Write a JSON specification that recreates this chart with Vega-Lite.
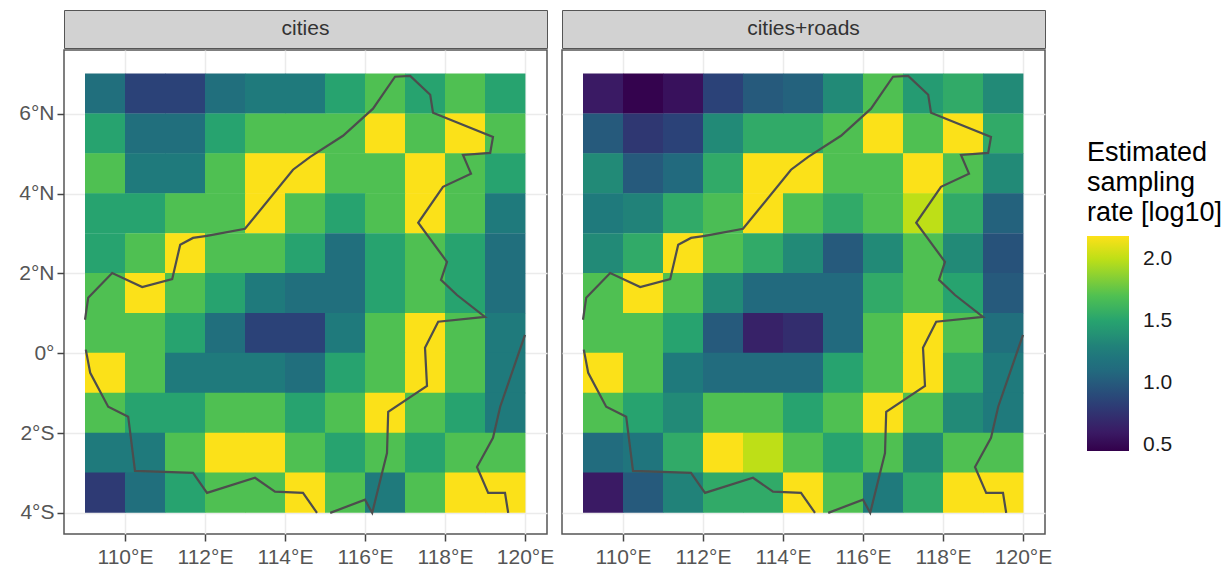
{"$schema":"https://vega.github.io/schema/vega-lite/v6.json",
"padding":{"left":18,"top":9,"right":0,"bottom":0},
"background":"white",
"config":{"font":"Liberation Sans","concat":{"spacing":6},"view":{"stroke":"#555555","strokeWidth":1.5}},
"datasets":{
"strip1":[{"label":"cities"}],
"strip2":[{"label":"cities+roads"}],
"boundary":[
{"part":"A","seq":1,"lon":109.02,"lat":0.09},{"part":"A","seq":2,"lon":109.13,"lat":-0.49},{"part":"A","seq":3,"lon":109.58,"lat":-1.34},{"part":"A","seq":4,"lon":110.08,"lat":-1.59},{"part":"A","seq":5,"lon":110.25,"lat":-2.95},{"part":"A","seq":6,"lon":111.7,"lat":-3.0},{"part":"A","seq":7,"lon":112.05,"lat":-3.5},{"part":"A","seq":8,"lon":113.25,"lat":-3.12},{"part":"A","seq":9,"lon":113.75,"lat":-3.47},{"part":"A","seq":10,"lon":114.45,"lat":-3.5},{"part":"A","seq":11,"lon":114.8,"lat":-4.0},
{"part":"B","seq":1,"lon":115.13,"lat":-4.0},{"part":"B","seq":2,"lon":116.0,"lat":-3.67},{"part":"B","seq":3,"lon":116.18,"lat":-4.0},{"part":"B","seq":4,"lon":116.55,"lat":-2.5},{"part":"B","seq":5,"lon":116.58,"lat":-1.47},{"part":"B","seq":6,"lon":117.55,"lat":-0.82},{"part":"B","seq":7,"lon":117.5,"lat":0.14},{"part":"B","seq":8,"lon":117.83,"lat":0.79},{"part":"B","seq":9,"lon":119.0,"lat":0.91},{"part":"B","seq":10,"lon":118.3,"lat":1.46},{"part":"B","seq":11,"lon":117.9,"lat":1.84},{"part":"B","seq":12,"lon":118.05,"lat":2.29},{"part":"B","seq":13,"lon":117.33,"lat":3.27},{"part":"B","seq":14,"lon":117.95,"lat":4.17},{"part":"B","seq":15,"lon":118.65,"lat":4.5},{"part":"B","seq":16,"lon":118.45,"lat":4.97},{"part":"B","seq":17,"lon":119.13,"lat":5.02},{"part":"B","seq":18,"lon":119.2,"lat":5.42},{"part":"B","seq":19,"lon":117.7,"lat":6.03},{"part":"B","seq":20,"lon":117.63,"lat":6.48},{"part":"B","seq":21,"lon":117.13,"lat":6.95},{"part":"B","seq":22,"lon":116.75,"lat":6.93},{"part":"B","seq":23,"lon":116.2,"lat":6.13},{"part":"B","seq":24,"lon":115.45,"lat":5.45},{"part":"B","seq":25,"lon":114.63,"lat":4.92},{"part":"B","seq":26,"lon":114.2,"lat":4.6},{"part":"B","seq":27,"lon":113.0,"lat":3.12},{"part":"B","seq":28,"lon":112.05,"lat":2.94},{"part":"B","seq":29,"lon":111.7,"lat":2.89},{"part":"B","seq":30,"lon":111.38,"lat":2.72},{"part":"B","seq":31,"lon":111.18,"lat":1.86},{"part":"B","seq":32,"lon":110.43,"lat":1.66},{"part":"B","seq":33,"lon":109.68,"lat":2.01},{"part":"B","seq":34,"lon":109.08,"lat":1.39},{"part":"B","seq":35,"lon":109.0,"lat":0.84},
{"part":"C","seq":1,"lon":119.58,"lat":-4.0},{"part":"C","seq":2,"lon":119.5,"lat":-3.5},{"part":"C","seq":3,"lon":119.08,"lat":-3.5},{"part":"C","seq":4,"lon":118.8,"lat":-2.85},{"part":"C","seq":5,"lon":119.2,"lat":-2.12},{"part":"C","seq":6,"lon":119.38,"lat":-1.34},{"part":"C","seq":7,"lon":120.0,"lat":0.46}
],
"cities":[
{"lon":109,"lon2":110,"lat":6,"lat2":7,"value":1.15},{"lon":110,"lon2":111,"lat":6,"lat2":7,"value":0.85},{"lon":111,"lon2":112,"lat":6,"lat2":7,"value":0.85},{"lon":112,"lon2":113,"lat":6,"lat2":7,"value":1.15},{"lon":113,"lon2":114,"lat":6,"lat2":7,"value":1.25},{"lon":114,"lon2":115,"lat":6,"lat2":7,"value":1.25},{"lon":115,"lon2":116,"lat":6,"lat2":7,"value":1.5},{"lon":116,"lon2":117,"lat":6,"lat2":7,"value":1.7},{"lon":117,"lon2":118,"lat":6,"lat2":7,"value":1.5},{"lon":118,"lon2":119,"lat":6,"lat2":7,"value":1.7},{"lon":119,"lon2":120,"lat":6,"lat2":7,"value":1.5},
{"lon":109,"lon2":110,"lat":5,"lat2":6,"value":1.5},{"lon":110,"lon2":111,"lat":5,"lat2":6,"value":1.15},{"lon":111,"lon2":112,"lat":5,"lat2":6,"value":1.15},{"lon":112,"lon2":113,"lat":5,"lat2":6,"value":1.5},{"lon":113,"lon2":114,"lat":5,"lat2":6,"value":1.7},{"lon":114,"lon2":115,"lat":5,"lat2":6,"value":1.7},{"lon":115,"lon2":116,"lat":5,"lat2":6,"value":1.7},{"lon":116,"lon2":117,"lat":5,"lat2":6,"value":2.18},{"lon":117,"lon2":118,"lat":5,"lat2":6,"value":1.7},{"lon":118,"lon2":119,"lat":5,"lat2":6,"value":2.18},{"lon":119,"lon2":120,"lat":5,"lat2":6,"value":1.7},
{"lon":109,"lon2":110,"lat":4,"lat2":5,"value":1.7},{"lon":110,"lon2":111,"lat":4,"lat2":5,"value":1.25},{"lon":111,"lon2":112,"lat":4,"lat2":5,"value":1.25},{"lon":112,"lon2":113,"lat":4,"lat2":5,"value":1.7},{"lon":113,"lon2":114,"lat":4,"lat2":5,"value":2.18},{"lon":114,"lon2":115,"lat":4,"lat2":5,"value":2.18},{"lon":115,"lon2":116,"lat":4,"lat2":5,"value":1.7},{"lon":116,"lon2":117,"lat":4,"lat2":5,"value":1.7},{"lon":117,"lon2":118,"lat":4,"lat2":5,"value":2.18},{"lon":118,"lon2":119,"lat":4,"lat2":5,"value":1.7},{"lon":119,"lon2":120,"lat":4,"lat2":5,"value":1.5},
{"lon":109,"lon2":110,"lat":3,"lat2":4,"value":1.5},{"lon":110,"lon2":111,"lat":3,"lat2":4,"value":1.5},{"lon":111,"lon2":112,"lat":3,"lat2":4,"value":1.7},{"lon":112,"lon2":113,"lat":3,"lat2":4,"value":1.7},{"lon":113,"lon2":114,"lat":3,"lat2":4,"value":2.18},{"lon":114,"lon2":115,"lat":3,"lat2":4,"value":1.7},{"lon":115,"lon2":116,"lat":3,"lat2":4,"value":1.5},{"lon":116,"lon2":117,"lat":3,"lat2":4,"value":1.7},{"lon":117,"lon2":118,"lat":3,"lat2":4,"value":2.18},{"lon":118,"lon2":119,"lat":3,"lat2":4,"value":1.7},{"lon":119,"lon2":120,"lat":3,"lat2":4,"value":1.25},
{"lon":109,"lon2":110,"lat":2,"lat2":3,"value":1.5},{"lon":110,"lon2":111,"lat":2,"lat2":3,"value":1.7},{"lon":111,"lon2":112,"lat":2,"lat2":3,"value":2.18},{"lon":112,"lon2":113,"lat":2,"lat2":3,"value":1.7},{"lon":113,"lon2":114,"lat":2,"lat2":3,"value":1.7},{"lon":114,"lon2":115,"lat":2,"lat2":3,"value":1.5},{"lon":115,"lon2":116,"lat":2,"lat2":3,"value":1.15},{"lon":116,"lon2":117,"lat":2,"lat2":3,"value":1.5},{"lon":117,"lon2":118,"lat":2,"lat2":3,"value":1.7},{"lon":118,"lon2":119,"lat":2,"lat2":3,"value":1.5},{"lon":119,"lon2":120,"lat":2,"lat2":3,"value":1.15},
{"lon":109,"lon2":110,"lat":1,"lat2":2,"value":1.7},{"lon":110,"lon2":111,"lat":1,"lat2":2,"value":2.18},{"lon":111,"lon2":112,"lat":1,"lat2":2,"value":1.7},{"lon":112,"lon2":113,"lat":1,"lat2":2,"value":1.5},{"lon":113,"lon2":114,"lat":1,"lat2":2,"value":1.25},{"lon":114,"lon2":115,"lat":1,"lat2":2,"value":1.15},{"lon":115,"lon2":116,"lat":1,"lat2":2,"value":1.15},{"lon":116,"lon2":117,"lat":1,"lat2":2,"value":1.5},{"lon":117,"lon2":118,"lat":1,"lat2":2,"value":1.7},{"lon":118,"lon2":119,"lat":1,"lat2":2,"value":1.5},{"lon":119,"lon2":120,"lat":1,"lat2":2,"value":1.15},
{"lon":109,"lon2":110,"lat":0,"lat2":1,"value":1.7},{"lon":110,"lon2":111,"lat":0,"lat2":1,"value":1.7},{"lon":111,"lon2":112,"lat":0,"lat2":1,"value":1.5},{"lon":112,"lon2":113,"lat":0,"lat2":1,"value":1.15},{"lon":113,"lon2":114,"lat":0,"lat2":1,"value":0.85},{"lon":114,"lon2":115,"lat":0,"lat2":1,"value":0.85},{"lon":115,"lon2":116,"lat":0,"lat2":1,"value":1.25},{"lon":116,"lon2":117,"lat":0,"lat2":1,"value":1.7},{"lon":117,"lon2":118,"lat":0,"lat2":1,"value":2.18},{"lon":118,"lon2":119,"lat":0,"lat2":1,"value":1.7},{"lon":119,"lon2":120,"lat":0,"lat2":1,"value":1.25},
{"lon":109,"lon2":110,"lat":-1,"lat2":0,"value":2.18},{"lon":110,"lon2":111,"lat":-1,"lat2":0,"value":1.7},{"lon":111,"lon2":112,"lat":-1,"lat2":0,"value":1.25},{"lon":112,"lon2":113,"lat":-1,"lat2":0,"value":1.25},{"lon":113,"lon2":114,"lat":-1,"lat2":0,"value":1.25},{"lon":114,"lon2":115,"lat":-1,"lat2":0,"value":1.15},{"lon":115,"lon2":116,"lat":-1,"lat2":0,"value":1.5},{"lon":116,"lon2":117,"lat":-1,"lat2":0,"value":1.7},{"lon":117,"lon2":118,"lat":-1,"lat2":0,"value":2.18},{"lon":118,"lon2":119,"lat":-1,"lat2":0,"value":1.7},{"lon":119,"lon2":120,"lat":-1,"lat2":0,"value":1.25},
{"lon":109,"lon2":110,"lat":-2,"lat2":-1,"value":1.7},{"lon":110,"lon2":111,"lat":-2,"lat2":-1,"value":1.5},{"lon":111,"lon2":112,"lat":-2,"lat2":-1,"value":1.5},{"lon":112,"lon2":113,"lat":-2,"lat2":-1,"value":1.7},{"lon":113,"lon2":114,"lat":-2,"lat2":-1,"value":1.7},{"lon":114,"lon2":115,"lat":-2,"lat2":-1,"value":1.5},{"lon":115,"lon2":116,"lat":-2,"lat2":-1,"value":1.7},{"lon":116,"lon2":117,"lat":-2,"lat2":-1,"value":2.18},{"lon":117,"lon2":118,"lat":-2,"lat2":-1,"value":1.7},{"lon":118,"lon2":119,"lat":-2,"lat2":-1,"value":1.5},{"lon":119,"lon2":120,"lat":-2,"lat2":-1,"value":1.25},
{"lon":109,"lon2":110,"lat":-3,"lat2":-2,"value":1.25},{"lon":110,"lon2":111,"lat":-3,"lat2":-2,"value":1.25},{"lon":111,"lon2":112,"lat":-3,"lat2":-2,"value":1.7},{"lon":112,"lon2":113,"lat":-3,"lat2":-2,"value":2.18},{"lon":113,"lon2":114,"lat":-3,"lat2":-2,"value":2.18},{"lon":114,"lon2":115,"lat":-3,"lat2":-2,"value":1.7},{"lon":115,"lon2":116,"lat":-3,"lat2":-2,"value":1.5},{"lon":116,"lon2":117,"lat":-3,"lat2":-2,"value":1.7},{"lon":117,"lon2":118,"lat":-3,"lat2":-2,"value":1.5},{"lon":118,"lon2":119,"lat":-3,"lat2":-2,"value":1.7},{"lon":119,"lon2":120,"lat":-3,"lat2":-2,"value":1.7},
{"lon":109,"lon2":110,"lat":-4,"lat2":-3,"value":0.8},{"lon":110,"lon2":111,"lat":-4,"lat2":-3,"value":1.15},{"lon":111,"lon2":112,"lat":-4,"lat2":-3,"value":1.5},{"lon":112,"lon2":113,"lat":-4,"lat2":-3,"value":1.7},{"lon":113,"lon2":114,"lat":-4,"lat2":-3,"value":1.7},{"lon":114,"lon2":115,"lat":-4,"lat2":-3,"value":2.18},{"lon":115,"lon2":116,"lat":-4,"lat2":-3,"value":1.7},{"lon":116,"lon2":117,"lat":-4,"lat2":-3,"value":1.25},{"lon":117,"lon2":118,"lat":-4,"lat2":-3,"value":1.7},{"lon":118,"lon2":119,"lat":-4,"lat2":-3,"value":2.18},{"lon":119,"lon2":120,"lat":-4,"lat2":-3,"value":2.18}
],
"roads":[
{"lon":109,"lon2":110,"lat":6,"lat2":7,"value":0.6},{"lon":110,"lon2":111,"lat":6,"lat2":7,"value":0.47},{"lon":111,"lon2":112,"lat":6,"lat2":7,"value":0.55},{"lon":112,"lon2":113,"lat":6,"lat2":7,"value":0.85},{"lon":113,"lon2":114,"lat":6,"lat2":7,"value":1.0},{"lon":114,"lon2":115,"lat":6,"lat2":7,"value":1.05},{"lon":115,"lon2":116,"lat":6,"lat2":7,"value":1.35},{"lon":116,"lon2":117,"lat":6,"lat2":7,"value":1.7},{"lon":117,"lon2":118,"lat":6,"lat2":7,"value":1.45},{"lon":118,"lon2":119,"lat":6,"lat2":7,"value":1.55},{"lon":119,"lon2":120,"lat":6,"lat2":7,"value":1.35},
{"lon":109,"lon2":110,"lat":5,"lat2":6,"value":1.0},{"lon":110,"lon2":111,"lat":5,"lat2":6,"value":0.78},{"lon":111,"lon2":112,"lat":5,"lat2":6,"value":0.85},{"lon":112,"lon2":113,"lat":5,"lat2":6,"value":1.35},{"lon":113,"lon2":114,"lat":5,"lat2":6,"value":1.55},{"lon":114,"lon2":115,"lat":5,"lat2":6,"value":1.55},{"lon":115,"lon2":116,"lat":5,"lat2":6,"value":1.7},{"lon":116,"lon2":117,"lat":5,"lat2":6,"value":2.18},{"lon":117,"lon2":118,"lat":5,"lat2":6,"value":1.7},{"lon":118,"lon2":119,"lat":5,"lat2":6,"value":2.18},{"lon":119,"lon2":120,"lat":5,"lat2":6,"value":1.55},
{"lon":109,"lon2":110,"lat":4,"lat2":5,"value":1.35},{"lon":110,"lon2":111,"lat":4,"lat2":5,"value":1.0},{"lon":111,"lon2":112,"lat":4,"lat2":5,"value":1.1},{"lon":112,"lon2":113,"lat":4,"lat2":5,"value":1.55},{"lon":113,"lon2":114,"lat":4,"lat2":5,"value":2.18},{"lon":114,"lon2":115,"lat":4,"lat2":5,"value":2.18},{"lon":115,"lon2":116,"lat":4,"lat2":5,"value":1.7},{"lon":116,"lon2":117,"lat":4,"lat2":5,"value":1.7},{"lon":117,"lon2":118,"lat":4,"lat2":5,"value":2.18},{"lon":118,"lon2":119,"lat":4,"lat2":5,"value":1.7},{"lon":119,"lon2":120,"lat":4,"lat2":5,"value":1.35},
{"lon":109,"lon2":110,"lat":3,"lat2":4,"value":1.25},{"lon":110,"lon2":111,"lat":3,"lat2":4,"value":1.3},{"lon":111,"lon2":112,"lat":3,"lat2":4,"value":1.55},{"lon":112,"lon2":113,"lat":3,"lat2":4,"value":1.68},{"lon":113,"lon2":114,"lat":3,"lat2":4,"value":2.18},{"lon":114,"lon2":115,"lat":3,"lat2":4,"value":1.7},{"lon":115,"lon2":116,"lat":3,"lat2":4,"value":1.55},{"lon":116,"lon2":117,"lat":3,"lat2":4,"value":1.7},{"lon":117,"lon2":118,"lat":3,"lat2":4,"value":2.0},{"lon":118,"lon2":119,"lat":3,"lat2":4,"value":1.55},{"lon":119,"lon2":120,"lat":3,"lat2":4,"value":1.05},
{"lon":109,"lon2":110,"lat":2,"lat2":3,"value":1.35},{"lon":110,"lon2":111,"lat":2,"lat2":3,"value":1.55},{"lon":111,"lon2":112,"lat":2,"lat2":3,"value":2.18},{"lon":112,"lon2":113,"lat":2,"lat2":3,"value":1.7},{"lon":113,"lon2":114,"lat":2,"lat2":3,"value":1.55},{"lon":114,"lon2":115,"lat":2,"lat2":3,"value":1.35},{"lon":115,"lon2":116,"lat":2,"lat2":3,"value":1.0},{"lon":116,"lon2":117,"lat":2,"lat2":3,"value":1.35},{"lon":117,"lon2":118,"lat":2,"lat2":3,"value":1.7},{"lon":118,"lon2":119,"lat":2,"lat2":3,"value":1.35},{"lon":119,"lon2":120,"lat":2,"lat2":3,"value":0.95},
{"lon":109,"lon2":110,"lat":1,"lat2":2,"value":1.7},{"lon":110,"lon2":111,"lat":1,"lat2":2,"value":2.18},{"lon":111,"lon2":112,"lat":1,"lat2":2,"value":1.7},{"lon":112,"lon2":113,"lat":1,"lat2":2,"value":1.35},{"lon":113,"lon2":114,"lat":1,"lat2":2,"value":1.1},{"lon":114,"lon2":115,"lat":1,"lat2":2,"value":1.1},{"lon":115,"lon2":116,"lat":1,"lat2":2,"value":1.1},{"lon":116,"lon2":117,"lat":1,"lat2":2,"value":1.55},{"lon":117,"lon2":118,"lat":1,"lat2":2,"value":1.7},{"lon":118,"lon2":119,"lat":1,"lat2":2,"value":1.5},{"lon":119,"lon2":120,"lat":1,"lat2":2,"value":1.0},
{"lon":109,"lon2":110,"lat":0,"lat2":1,"value":1.7},{"lon":110,"lon2":111,"lat":0,"lat2":1,"value":1.7},{"lon":111,"lon2":112,"lat":0,"lat2":1,"value":1.5},{"lon":112,"lon2":113,"lat":0,"lat2":1,"value":1.0},{"lon":113,"lon2":114,"lat":0,"lat2":1,"value":0.65},{"lon":114,"lon2":115,"lat":0,"lat2":1,"value":0.72},{"lon":115,"lon2":116,"lat":0,"lat2":1,"value":1.1},{"lon":116,"lon2":117,"lat":0,"lat2":1,"value":1.7},{"lon":117,"lon2":118,"lat":0,"lat2":1,"value":2.18},{"lon":118,"lon2":119,"lat":0,"lat2":1,"value":1.7},{"lon":119,"lon2":120,"lat":0,"lat2":1,"value":1.15},
{"lon":109,"lon2":110,"lat":-1,"lat2":0,"value":2.18},{"lon":110,"lon2":111,"lat":-1,"lat2":0,"value":1.7},{"lon":111,"lon2":112,"lat":-1,"lat2":0,"value":1.25},{"lon":112,"lon2":113,"lat":-1,"lat2":0,"value":1.12},{"lon":113,"lon2":114,"lat":-1,"lat2":0,"value":1.12},{"lon":114,"lon2":115,"lat":-1,"lat2":0,"value":1.12},{"lon":115,"lon2":116,"lat":-1,"lat2":0,"value":1.5},{"lon":116,"lon2":117,"lat":-1,"lat2":0,"value":1.7},{"lon":117,"lon2":118,"lat":-1,"lat2":0,"value":2.18},{"lon":118,"lon2":119,"lat":-1,"lat2":0,"value":1.55},{"lon":119,"lon2":120,"lat":-1,"lat2":0,"value":1.25},
{"lon":109,"lon2":110,"lat":-2,"lat2":-1,"value":1.7},{"lon":110,"lon2":111,"lat":-2,"lat2":-1,"value":1.5},{"lon":111,"lon2":112,"lat":-2,"lat2":-1,"value":1.35},{"lon":112,"lon2":113,"lat":-2,"lat2":-1,"value":1.7},{"lon":113,"lon2":114,"lat":-2,"lat2":-1,"value":1.7},{"lon":114,"lon2":115,"lat":-2,"lat2":-1,"value":1.5},{"lon":115,"lon2":116,"lat":-2,"lat2":-1,"value":1.7},{"lon":116,"lon2":117,"lat":-2,"lat2":-1,"value":2.18},{"lon":117,"lon2":118,"lat":-2,"lat2":-1,"value":1.7},{"lon":118,"lon2":119,"lat":-2,"lat2":-1,"value":1.35},{"lon":119,"lon2":120,"lat":-2,"lat2":-1,"value":1.25},
{"lon":109,"lon2":110,"lat":-3,"lat2":-2,"value":1.12},{"lon":110,"lon2":111,"lat":-3,"lat2":-2,"value":1.2},{"lon":111,"lon2":112,"lat":-3,"lat2":-2,"value":1.55},{"lon":112,"lon2":113,"lat":-3,"lat2":-2,"value":2.18},{"lon":113,"lon2":114,"lat":-3,"lat2":-2,"value":2.0},{"lon":114,"lon2":115,"lat":-3,"lat2":-2,"value":1.7},{"lon":115,"lon2":116,"lat":-3,"lat2":-2,"value":1.5},{"lon":116,"lon2":117,"lat":-3,"lat2":-2,"value":1.7},{"lon":117,"lon2":118,"lat":-3,"lat2":-2,"value":1.35},{"lon":118,"lon2":119,"lat":-3,"lat2":-2,"value":1.7},{"lon":119,"lon2":120,"lat":-3,"lat2":-2,"value":1.7},
{"lon":109,"lon2":110,"lat":-4,"lat2":-3,"value":0.6},{"lon":110,"lon2":111,"lat":-4,"lat2":-3,"value":1.0},{"lon":111,"lon2":112,"lat":-4,"lat2":-3,"value":1.3},{"lon":112,"lon2":113,"lat":-4,"lat2":-3,"value":1.55},{"lon":113,"lon2":114,"lat":-4,"lat2":-3,"value":1.55},{"lon":114,"lon2":115,"lat":-4,"lat2":-3,"value":2.18},{"lon":115,"lon2":116,"lat":-4,"lat2":-3,"value":1.7},{"lon":116,"lon2":117,"lat":-4,"lat2":-3,"value":1.25},{"lon":117,"lon2":118,"lat":-4,"lat2":-3,"value":1.55},{"lon":118,"lon2":119,"lat":-4,"lat2":-3,"value":2.18},{"lon":119,"lon2":120,"lat":-4,"lat2":-3,"value":2.18}
]
},
"hconcat":[
{"spacing":0,"vconcat":[
{"width":483,"height":38,"view":{"fill":"#D2D2D2","stroke":"#555555"},"data":{"name":"strip1"},"mark":{"type":"text","fontSize":21,"color":"#333333"},"encoding":{"text":{"field":"label"}}},
{"width":483,"height":484,"layer":[
{"data":{"name":"cities"},"mark":{"type":"rect","stroke":null,"x2Offset":0.4,"y2Offset":-0.4},"encoding":{
"x":{"field":"lon","type":"quantitative","scale":{"domain":[108.475,120.55],"nice":false,"zero":false},"title":null,"axis":{"values":[110,112,114,116,118,120],"labelExpr":"datum.value+'°E'","labelFontSize":21,"labelColor":"#555555","tickColor":"#444444","tickWidth":1.5,"tickSize":7,"domain":false,"grid":true,"gridColor":"#EBEBEB","gridWidth":1.5,"labelPadding":5}},
"x2":{"field":"lon2"},
"y":{"field":"lat","type":"quantitative","scale":{"domain":[-4.53,7.6],"nice":false,"zero":false},"title":null,"axis":{"values":[-4,-2,0,2,4,6],"labelExpr":"datum.value<0?(-datum.value)+'°S':(datum.value>0?datum.value+'°N':'0°')","labelFontSize":21,"labelColor":"#555555","tickColor":"#444444","tickWidth":1.5,"tickSize":7,"domain":false,"grid":true,"gridColor":"#EBEBEB","gridWidth":1.5,"labelPadding":3}},
"y2":{"field":"lat2"},
"color":{"field":"value","type":"quantitative","scale":{"interpolate":"rgb","domain":[0.45,0.6,0.85,1.1,1.25,1.5,1.7,2.0,2.185],"range":["#33004b","#3a1a64","#2b4278","#226a7e","#1f7a7c","#27a36f","#4fc052","#bedf17","#fde119"]},"title":["Estimated","sampling","rate [log10]"],"legend":{"orient":"none","legendX":1023,"legendY":130,"values":[0.5,1,1.5,2],"format":".1f","gradientLength":215,"gradientThickness":42,"gradientStrokeWidth":0,"titleFontSize":27,"titleFontWeight":"normal","titleColor":"#000000","titleLineHeight":30,"titlePadding":9,"labelFontSize":21,"labelColor":"#1a1a1a","labelOffset":14}}
}},
{"data":{"name":"boundary"},"mark":{"type":"line","color":"#4d4d4d","strokeWidth":2.2},"encoding":{"x":{"field":"lon","type":"quantitative"},"y":{"field":"lat","type":"quantitative"},"detail":{"field":"part"},"order":{"field":"seq","type":"quantitative"}}}
]}
]},
{"spacing":0,"vconcat":[
{"width":483,"height":38,"view":{"fill":"#D2D2D2","stroke":"#555555"},"data":{"name":"strip2"},"mark":{"type":"text","fontSize":21,"color":"#333333"},"encoding":{"text":{"field":"label"}}},
{"width":483,"height":484,"layer":[
{"data":{"name":"roads"},"mark":{"type":"rect","stroke":null,"x2Offset":0.4,"y2Offset":-0.4},"encoding":{
"x":{"field":"lon","type":"quantitative","scale":{"domain":[108.475,120.55],"nice":false,"zero":false},"title":null,"axis":{"values":[110,112,114,116,118,120],"labelExpr":"datum.value+'°E'","labelFontSize":21,"labelColor":"#555555","tickColor":"#444444","tickWidth":1.5,"tickSize":7,"domain":false,"grid":true,"gridColor":"#EBEBEB","gridWidth":1.5,"labelPadding":5}},
"x2":{"field":"lon2"},
"y":{"field":"lat","type":"quantitative","scale":{"domain":[-4.53,7.6],"nice":false,"zero":false},"title":null,"axis":{"values":[-4,-2,0,2,4,6],"labels":false,"ticks":false,"domain":false,"grid":true,"gridColor":"#EBEBEB","gridWidth":1.5}},
"y2":{"field":"lat2"},
"color":{"field":"value","type":"quantitative","scale":{"interpolate":"rgb","domain":[0.45,0.6,0.85,1.1,1.25,1.5,1.7,2.0,2.185],"range":["#33004b","#3a1a64","#2b4278","#226a7e","#1f7a7c","#27a36f","#4fc052","#bedf17","#fde119"]},"title":["Estimated","sampling","rate [log10]"],"legend":{"orient":"none","legendX":1023,"legendY":130,"values":[0.5,1,1.5,2],"format":".1f","gradientLength":215,"gradientThickness":42,"gradientStrokeWidth":0,"titleFontSize":27,"titleFontWeight":"normal","titleColor":"#000000","titleLineHeight":30,"titlePadding":9,"labelFontSize":21,"labelColor":"#1a1a1a","labelOffset":14}}
}},
{"data":{"name":"boundary"},"mark":{"type":"line","color":"#4d4d4d","strokeWidth":2.2},"encoding":{"x":{"field":"lon","type":"quantitative"},"y":{"field":"lat","type":"quantitative"},"detail":{"field":"part"},"order":{"field":"seq","type":"quantitative"}}}
]}
]}
]}
